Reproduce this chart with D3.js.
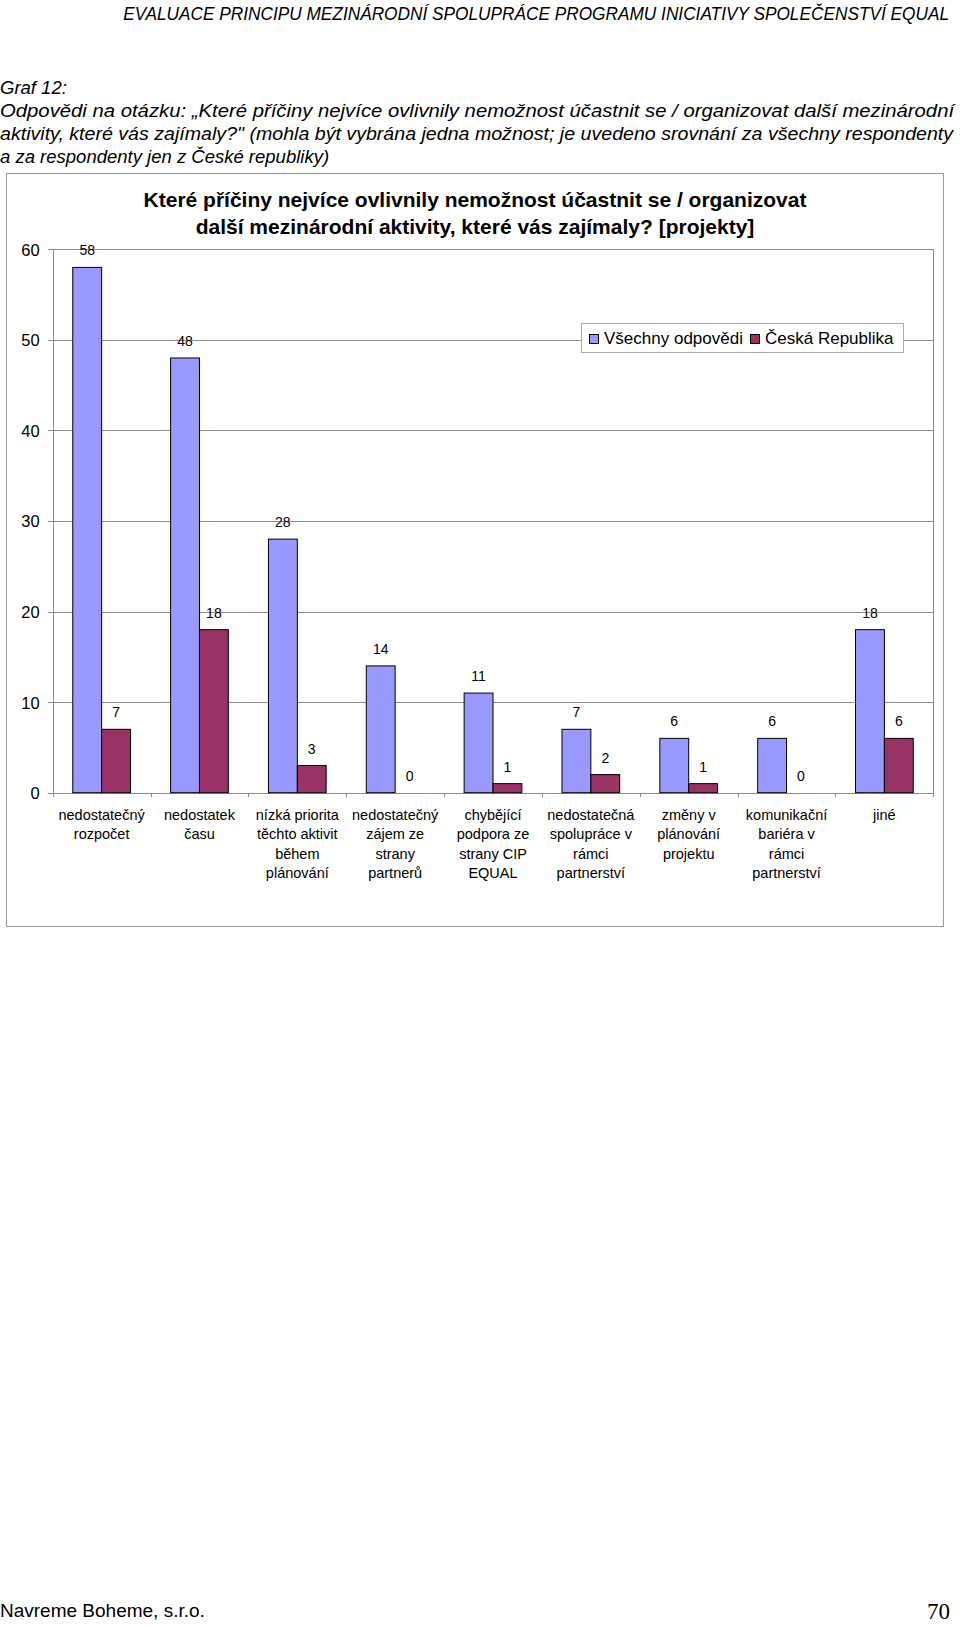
<!DOCTYPE html>
<html>
<head>
<meta charset="utf-8">
<script src="https://cdn.jsdelivr.net/npm/d3@7"></script>
<style>
  html, body { margin: 0; padding: 0; background: #fff; }
  svg { display: block; }
</style>
</head>
<body>
<svg id="page" width="960" height="1626"></svg>
<script>
// ---------------- DATA ----------------
const categories = [
  "nedostatečný|rozpočet",
  "nedostatek|času",
  "nízká priorita|těchto aktivit|během|plánování",
  "nedostatečný|zájem ze|strany|partnerů",
  "chybějící|podpora ze|strany CIP|EQUAL",
  "nedostatečná|spolupráce v|rámci|partnerství",
  "změny v|plánování|projektu",
  "komunikační|bariéra v|rámci|partnerství",
  "jiné"
];
const seriesNames = ["Všechny odpovědi", "Česká Republika"];
const allValues = [58, 48, 28, 14, 11, 7, 6, 6, 18];
const czValues  = [7, 18, 3, 0, 1, 2, 1, 0, 6];
const yTicks = [0, 10, 20, 30, 40, 50, 60];
const seriesColors = ["#9999FF", "#993366"];

const pageHeader = "EVALUACE PRINCIPU MEZINÁRODNÍ SPOLUPRÁCE PROGRAMU INICIATIVY SPOLEČENSTVÍ EQUAL";
const captionLines = [
  "Graf 12:",
  "Odpovědi na otázku: „Které příčiny nejvíce ovlivnily nemožnost účastnit se / organizovat další mezinárodní",
  "aktivity, které vás zajímaly?\" (mohla být vybrána jedna možnost; je uvedeno srovnání za všechny respondenty",
  "a za respondenty jen z České republiky)"
];
const chartTitle = [
  "Které příčiny nejvíce ovlivnily nemožnost účastnit se / organizovat",
  "další mezinárodní aktivity, které vás zajímaly? [projekty]"
];
const footerLeft = "Navreme Boheme, s.r.o.";
const footerPage = "70";

// ---------------- PAGE ----------------
const svg = d3.select("#page");
const bodyFont = "'Liberation Sans', Arial, sans-serif";

// fit a text horizontally to a target width by scaling it
function fitWidth(sel, anchorX, baseY, target, anchor) {
  const w = sel.node().getComputedTextLength();
  const k = target / w;
  sel.attr("x", 0).attr("y", 0).attr("text-anchor", anchor)
    .attr("transform", `translate(${anchorX},${baseY}) scale(${k},1)`);
}

const header = svg.append("text")
  .style("font-family", bodyFont).style("font-style", "italic")
  .style("font-size", "18px").attr("fill", "#000")
  .text(pageHeader);
fitWidth(header, 949, 20, 826, "end");

const capY = [94, 117, 140, 163];
const capLen = [null, 955, 954, null];
captionLines.forEach((t, i) => {
  const el = svg.append("text")
    .style("font-family", bodyFont).style("font-style", "italic")
    .style("font-size", "18.5px").attr("fill", "#000")
    .text(t);
  if (capLen[i]) fitWidth(el, 0, capY[i], capLen[i], "start");
  else el.attr("x", 0).attr("y", capY[i]);
});

const foot = svg.append("text")
  .style("font-family", bodyFont).style("font-size", "18px")
  .text(footerLeft);
fitWidth(foot, 0, 1617, 205, "start");
svg.append("text")
  .attr("x", 950).attr("y", 1619).attr("text-anchor", "end")
  .style("font-family", "'Liberation Serif', 'Times New Roman', serif").style("font-size", "23px")
  .text(footerPage);

// ---------------- CHART ----------------
const outer = { x: 6, y: 173, w: 937, h: 753 };
svg.append("rect")
  .attr("x", outer.x + 0.5).attr("y", outer.y + 0.5)
  .attr("width", outer.w).attr("height", outer.h)
  .attr("fill", "#fff").attr("stroke", "#999").attr("stroke-width", 1);

const plot = { left: 52.7, right: 933.3, top: 249.3, bottom: 792.7 };

const y = d3.scaleLinear().domain([0, 60]).range([plot.bottom, plot.top]);
const x0 = d3.scaleBand().domain(d3.range(categories.length))
  .range([plot.left, plot.right]).paddingInner(0.41).paddingOuter(0.205);
const x1 = d3.scaleBand().domain(d3.range(seriesNames.length))
  .range([0, x0.bandwidth()]).padding(0);
const xb = d3.scaleLinear().domain([0, categories.length]).range([plot.left, plot.right]);

// gridlines
const grid = svg.append("g").attr("transform", `translate(${plot.left},0)`)
  .call(d3.axisLeft(y).tickValues(yTicks.filter(v => v > 0))
    .tickSize(-(plot.right - plot.left)).tickFormat(""));
grid.select(".domain").remove();
grid.selectAll("line").attr("stroke", "#8c8c8c").attr("shape-rendering", "crispEdges");

// plot border right
svg.append("line")
  .attr("x1", plot.right).attr("x2", plot.right)
  .attr("y1", plot.top).attr("y2", plot.bottom)
  .attr("stroke", "#8c8c8c").attr("shape-rendering", "crispEdges");

// y axis
const yAxis = svg.append("g").attr("transform", `translate(${plot.left},0)`)
  .call(d3.axisLeft(y).tickValues(yTicks).tickSize(5).tickPadding(8).tickSizeOuter(0));
yAxis.select(".domain").attr("stroke", "#8c8c8c").attr("shape-rendering", "crispEdges");
yAxis.selectAll(".tick line").attr("stroke", "#8c8c8c").attr("shape-rendering", "crispEdges");
yAxis.selectAll(".tick text")
  .style("font-family", bodyFont).style("font-size", "16.5px").attr("fill", "#000")
  .attr("dy", "0.36em");

// x axis (ticks between categories)
const xAxis = svg.append("g").attr("transform", `translate(0,${plot.bottom})`)
  .call(d3.axisBottom(xb).tickValues(d3.range(categories.length + 1))
    .tickSize(4).tickFormat("").tickSizeOuter(0));
xAxis.select(".domain").attr("stroke", "#8c8c8c").attr("shape-rendering", "crispEdges");
xAxis.selectAll(".tick line").attr("stroke", "#8c8c8c").attr("shape-rendering", "crispEdges");

// bars
const seriesData = [allValues, czValues];
const barG = svg.append("g");
seriesData.forEach((vals, s) => {
  barG.selectAll(`rect.s${s}`).data(vals).join("rect")
    .attr("class", `s${s}`)
    .attr("x", (d, i) => x0(i) + x1(s))
    .attr("y", d => y(d))
    .attr("width", x1.bandwidth())
    .attr("height", d => y(0) - y(d))
    .attr("fill", seriesColors[s])
    .attr("stroke", "#000").attr("stroke-width", 1)
    .style("display", d => d > 0 ? null : "none");
});

// data labels
seriesData.forEach((vals, s) => {
  svg.append("g").selectAll("text").data(vals).join("text")
    .attr("x", (d, i) => x0(i) + x1(s) + x1.bandwidth() / 2)
    .attr("y", d => y(d) - 12)
    .attr("text-anchor", "middle")
    .style("font-family", bodyFont).style("font-size", "14px").attr("fill", "#000")
    .text(d => d);
});

// category labels
const catG = svg.append("g");
categories.forEach((c, i) => {
  const t = catG.append("text")
    .attr("text-anchor", "middle")
    .style("font-family", bodyFont).style("font-size", "14.5px").attr("fill", "#000");
  c.split("|").forEach((line, k) => {
    t.append("tspan")
      .attr("x", x0(i) + x0.bandwidth() / 2)
      .attr("y", 820 + k * 19.3)
      .text(line);
  });
});

// title
chartTitle.forEach((t, i) => {
  svg.append("text")
    .attr("x", 475).attr("y", 206.7 + i * 27.3)
    .attr("text-anchor", "middle")
    .style("font-family", bodyFont).style("font-weight", "bold")
    .style("font-size", "21px").attr("fill", "#000")
    .text(t);
});

// legend
const lg = svg.append("g");
lg.append("rect")
  .attr("x", 581.5).attr("y", 323.5).attr("width", 322).attr("height", 29)
  .attr("fill", "#fff").attr("stroke", "#aaa");
const legendX = [589, 750];
seriesNames.forEach((n, s) => {
  lg.append("rect")
    .attr("x", legendX[s] + 0.5).attr("y", 334.5).attr("width", 9).attr("height", 9)
    .attr("fill", seriesColors[s]).attr("stroke", "#000");
  lg.append("text")
    .attr("x", legendX[s] + 15).attr("y", 344)
    .style("font-family", bodyFont).style("font-size", "17px").attr("fill", "#000")
    .text(n);
});
</script>
</body>
</html>
